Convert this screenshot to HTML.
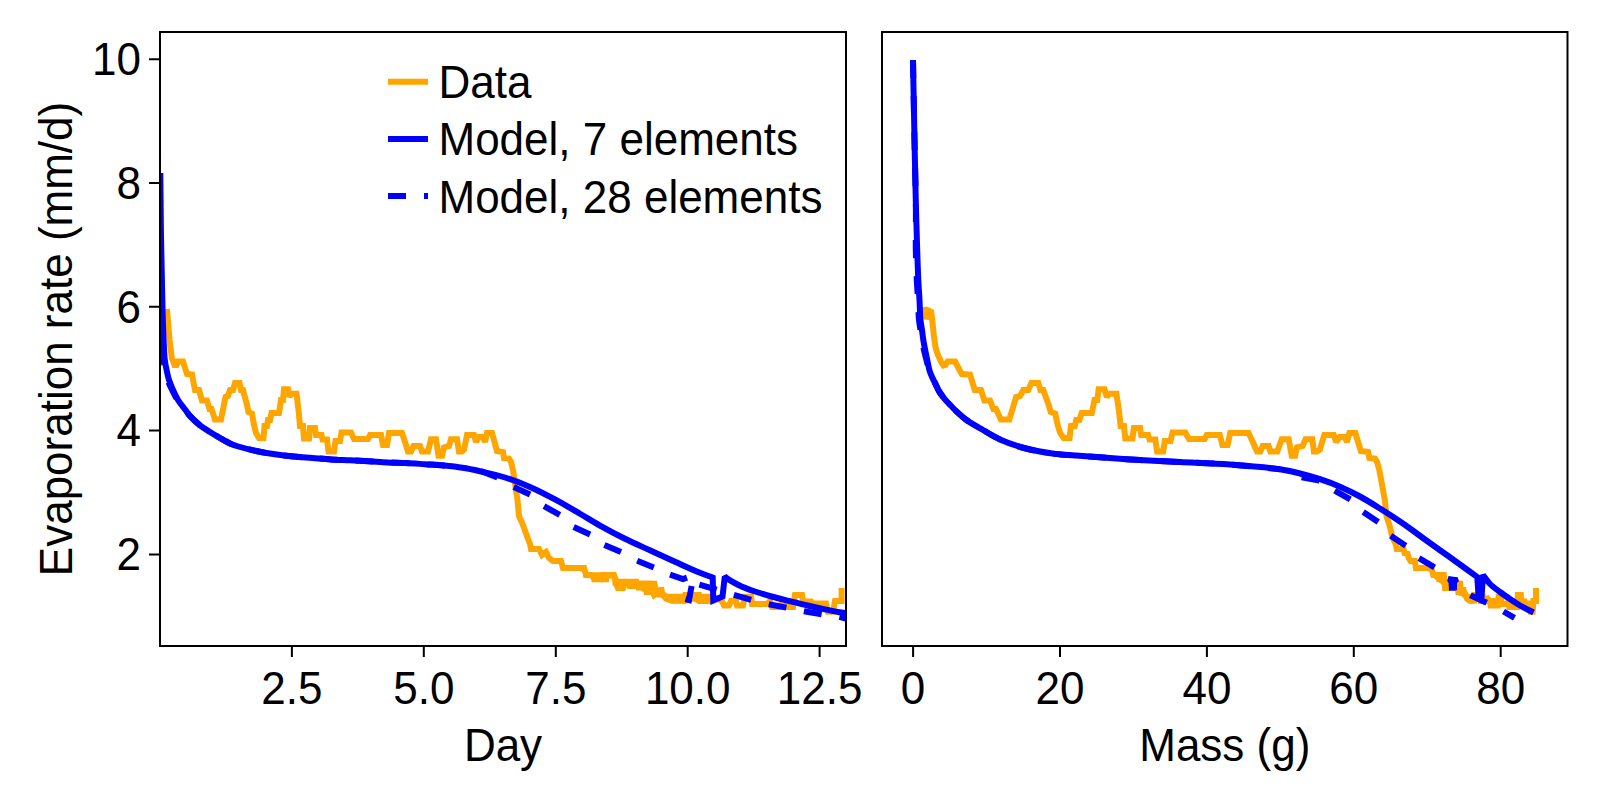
<!DOCTYPE html>
<html><head><meta charset="utf-8"><title>Evaporation rate</title>
<style>html,body{margin:0;padding:0;background:#fff;width:1600px;height:800px;overflow:hidden}svg{display:block}</style>
</head><body>
<svg width="1600" height="800" viewBox="0 0 1600 800">
<rect width="1600" height="800" fill="#fff"/>
<defs><clipPath id="cl"><rect x="160" y="32" width="686" height="614"/></clipPath><clipPath id="cr"><rect x="882" y="32" width="685.5" height="614"/></clipPath></defs>
<g clip-path="url(#cl)" fill="none" stroke-width="6" stroke-linejoin="miter" stroke-miterlimit="2">
<polygon points="580,566.1 585.7,566.1 588,572.25 601,572.25 602,574 605,574 605.4,572.25 614.5,572.25 619,578.8 638.6,578.8 639,580.6 651,580.6 657,581 658,587.1 664,587.1 665,592 667.5,593.7 682,593.7 683,592 700.7,592 701,593.7 712,593.7 712,603.75 698,603.75 694,601.6 685,603.75 672,603.75 666.6,601.6 666.6,597.6 654.4,597.6 654.4,595 646.5,595 646.5,590.6 636,590.6 636,588.9 629,588.9 629,585 623.7,585 623.7,590.6 616.7,590.6 612.4,584.5 612.4,578.5 609,578.5 609,582.3 591.4,582.3 591.4,578 583.5,578 583.5,571.4 580,571.4" fill="#FFA500" stroke="none"/>
<polyline points="166.9,309 169.6,340 171.8,358 174.5,365 176.5,365 178,361.5 183,361.5 187,374 192,374.5 195,390 199,390 202,400.5 207,400.5 209.5,409 211.5,409 215,419.5 221,419.5 225.5,397 228,396 230,390 233,390 235,383 239.5,383 241,390 243,390 247,405 248.5,412 252,413.5 254,425 256,433 259,438 263.5,438 264.5,426 267,426 268,420 270,420 271.5,413 279,413 281,400 283,400 284,389.3 288,389.3 289.5,397 291,393.8 296.5,393.8 298.5,410 300,425.9 303,425.9 304,438.4 309,438.4 310,428 315,428 316,435 321.5,435 322.5,439.4 327,439.4 328.5,451.4 334,451.4 335.5,441 340,441 341.5,432.6 351,432.6 354,439 368,439 370,435 381,435 383,445 387,445 389,433 402,433 405,442 408,451.4 411,451.4 413.5,446 420,446 422,451.4 428,451.4 431,439.3 436,439.3 438.5,455.75 442,455.75 444,447.4 449,446 451,439.3 457,439.3 459,451.4 462,451.4 464,449.5 467,435 474,435 476,442 479,437 483,437 485,442 487,433 492,433 497,451 503,452 504,458 509,458.6 511,462 513,470 514.5,480 516,490 517.5,500 519,516 523,525 527.5,537.5 530,544 531,549 539,549 542,555 546,552 549,558 553,561 561,561 563,568 584,568 586,575 591,575 593,577 601,579 603,575 614,575 616,582 618,588 623,588 625,582 628,582 629.5,586 635,586 637,583 643,588 645,584 646.5,592 652.5,592 654,595 659,591 663,595 666,598.6 672,600.5 685,600.5 686,595 699,595 700,601 711,601 713,597 722,601 724,605.5 729,605.5 731,601 736,601 737,605.5 743,605.5 745,596.7 751,596.7 752,604 767,604 770,601 772,607 779,607 782,603 786,603 787,607 793,607 795,595 802,595 803,601.5 811,601.5 812,603.5 818,603.5 819,606 821,603.5 826,603.5 828,611.7 833,611.7 835,601 838.5,601 841.6,601 841.6,588" stroke="#FFA500"/>
<path d="M160.30,173.00 C160.50,192.00 160.65,213.31 160.90,230.00 C161.10,243.08 161.33,252.30 161.60,265.00 C161.92,280.18 162.30,301.19 162.70,315.00 C162.98,324.76 163.22,332.13 163.60,340.00 C163.94,347.04 164.14,354.49 164.80,360.00 C165.27,363.92 165.90,366.68 166.60,370.00 C167.30,373.34 167.95,376.70 169.00,380.00 C170.07,383.37 171.52,386.70 173.00,390.00 C174.51,393.37 175.99,396.75 178.00,400.00 C180.12,403.43 183.32,407.07 185.50,410.00 C187.20,412.28 188.08,413.96 190.00,416.10 C192.57,418.97 196.56,422.59 200.00,425.30 C203.24,427.85 206.64,429.87 210.00,432.00 C213.31,434.10 216.65,436.07 220.00,438.00 C223.32,439.91 226.85,442.07 230.00,443.50 C232.63,444.70 234.41,445.29 237.50,446.25 C242.31,447.74 249.98,449.65 256.25,451.00 C262.48,452.33 268.74,453.37 275.00,454.30 C281.24,455.23 287.49,455.98 293.75,456.60 C299.99,457.22 306.25,457.53 312.50,458.00 C318.75,458.47 325.00,459.02 331.25,459.40 C337.50,459.78 343.75,459.99 350.00,460.30 C356.25,460.61 362.50,460.90 368.75,461.25 C375.00,461.60 381.27,462.11 387.50,462.40 C393.69,462.69 399.79,462.70 406.00,463.00 C412.29,463.31 418.69,463.82 425.00,464.25 C431.27,464.68 437.51,465.01 443.75,465.60 C450.01,466.19 456.38,466.84 462.50,467.80 C468.45,468.73 473.67,469.84 480.00,471.25 C487.61,472.95 496.74,474.92 505.00,477.50 C513.41,480.12 521.76,483.30 530.00,486.90 C538.43,490.58 546.73,494.96 555.00,499.40 C563.40,503.91 572.15,509.17 580.00,513.75 C587.05,517.86 592.91,521.64 600.00,525.60 C607.82,529.97 616.61,534.61 625.00,538.75 C633.28,542.84 641.66,546.47 650.00,550.30 C658.33,554.12 666.66,557.95 675.00,561.70 C683.32,565.45 693.03,569.96 700.00,572.80 C704.91,574.79 708.47,575.93 712.70,577.50 L713.3,600.5 L722.5,596.5 L724.8,576.5 C726.12,577.50 727.13,578.43 728.75,579.50 C731.06,581.02 734.55,583.00 737.50,584.50 C740.38,585.96 743.31,587.23 746.25,588.40 C749.14,589.56 751.57,590.38 755.00,591.50 C759.82,593.07 766.65,595.15 772.50,596.75 C778.31,598.34 784.17,599.64 790.00,601.10 C795.83,602.56 801.66,604.11 807.50,605.50 C813.32,606.88 818.82,608.12 825.00,609.40 C831.90,610.83 839.67,612.20 847.00,613.60" stroke="#0000FF"/>
<path d="M159.00,173.00 C159.20,192.00 159.35,213.31 159.60,230.00 C159.80,243.08 160.03,252.30 160.30,265.00 C160.62,280.18 161.00,301.19 161.40,315.00 C161.68,324.76 161.92,332.13 162.30,340.00 C162.64,347.04 162.84,354.49 163.50,360.00 C163.97,363.92 164.60,366.68 165.30,370.00 C166.00,373.34 166.59,376.72 167.70,380.00 C168.85,383.39 170.51,386.70 172.13,390.00 C173.79,393.37 175.42,396.76 177.57,400.00 C179.84,403.43 183.25,407.06 185.50,410.00 C187.23,412.27 188.08,413.96 190.00,416.10 C192.57,418.97 196.56,422.59 200.00,425.30 C203.24,427.85 206.64,429.87 210.00,432.00 C213.31,434.10 216.65,436.07 220.00,438.00 C223.32,439.91 226.85,442.07 230.00,443.50 C232.63,444.70 234.41,445.29 237.50,446.25 C242.31,447.74 249.98,449.65 256.25,451.00 C262.48,452.33 268.74,453.37 275.00,454.30 C281.24,455.23 287.49,455.98 293.75,456.60 C299.99,457.22 306.25,457.53 312.50,458.00 C318.75,458.47 325.00,459.02 331.25,459.40 C337.50,459.78 343.75,459.99 350.00,460.30 C356.25,460.61 362.50,460.90 368.75,461.25 C375.00,461.60 381.27,462.11 387.50,462.40 C393.69,462.69 399.79,462.70 406.00,463.00 C412.29,463.31 418.69,463.82 425.00,464.25 C431.27,464.68 437.51,465.01 443.75,465.60 C450.01,466.19 456.25,467.07 462.50,467.80" stroke="#0000FF" stroke-dasharray="18 18" stroke-dashoffset="6"/>
<polyline points="480.594,471.036 497.406,477.464" stroke="#0000FF"/>
<polyline points="513.684,486.97 530.066,494.43" stroke="#0000FF"/>
<polyline points="544.002,506.14 559.748,514.86" stroke="#0000FF"/>
<polyline points="573.684,526.97 590.066,534.43" stroke="#0000FF"/>
<polyline points="604.407,545.003 620.993,551.997" stroke="#0000FF"/>
<polyline points="637.161,560.665 653.839,567.435" stroke="#0000FF"/>
<polyline points="670,574.6 683,579 687,577.6" stroke="#0000FF"/>
<polyline points="691.6,586 689,600 685.5,599" stroke="#0000FF"/>
<polyline points="699.365,584.637 716.635,589.713" stroke="#0000FF"/>
<polyline points="733.839,594.954 751.161,599.846" stroke="#0000FF"/>
<polyline points="768.717,604.223 786.383,607.677" stroke="#0000FF"/>
<polyline points="803.884,611.18 821.616,614.27" stroke="#0000FF"/>
<polyline points="839.4,616.9 847,618.8" stroke="#0000FF"/>
</g>
<g clip-path="url(#cr)" fill="none" stroke-width="6" stroke-linejoin="miter" stroke-miterlimit="2">
<polygon points="1428.48,566.1 1433.01,566.1 1434.5,572.25 1439.55,572.25 1439.87,574 1440.86,574 1440.99,572.25 1443.99,572.25 1445.48,578.8 1454.64,578.8 1454.83,580.6 1460.39,580.6 1463.03,581 1463.47,587.1 1466.08,587.1 1466.5,592 1467.53,593.7 1473.35,593.7 1473.75,592 1481.23,592 1481.35,593.7 1485.74,593.7 1485.74,603.75 1480.11,603.75 1478.4,601.6 1474.55,603.75 1469.35,603.75 1467.16,601.6 1467.16,597.6 1461.89,597.6 1461.89,595 1458.39,595 1458.39,590.6 1453.4,590.6 1453.4,588.9 1450.06,588.9 1450.06,585 1447.46,585 1447.46,590.6 1444.68,590.6 1443.3,584.5 1443.3,578.5 1442.18,578.5 1442.18,582.3 1436.46,582.3 1436.46,578 1431.08,578 1431.08,571.4 1428.48,571.4" fill="#FFA500" stroke="none"/>
<polyline points="924.3,307 926.3,319 929.3,311 931.2,312 932.5,322 933.7,335 935.5,347 937.5,354 941,361.5 943.5,365.5 945.419,365 947.621,361.5 955,361.5 961.745,374 970,374.5 974.786,390 981,390 984.415,400.5 990,400.5 993.357,409 996,409 1000.89,419.5 1009.35,419.5 1016.17,397 1020.12,396 1023.32,390 1028.17,390 1031.44,383 1038.33,383 1040.46,390 1043.26,390 1048.71,405 1050.68,412 1055.19,413.5 1057.71,425 1060.13,433 1063.67,438 1069.56,438 1071.01,426 1074.75,426 1076.26,420 1079.32,420 1081.64,413 1091.84,413 1094.52,400 1097.26,400 1098.65,389.3 1104.54,389.3 1106.78,397 1109.01,393.8 1116.41,393.8 1118.87,410 1120.6,425.9 1123.95,425.9 1125.3,438.4 1132.54,438.4 1133.84,428 1140.04,428 1141.21,435 1148.19,435 1149.52,439.4 1155.27,439.4 1157.11,451.4 1163.18,451.4 1164.8,441 1170.45,441 1172.56,432.6 1185.26,432.6 1188.97,439 1204.69,439 1206.76,435 1219.83,435 1222.44,445 1227.57,445 1230.21,433 1248.51,433 1252.82,442 1256.97,451.4 1260.38,451.4 1262.71,446 1268.66,446 1270.41,451.4 1277.3,451.4 1281.72,439.3 1288.67,439.3 1291.73,455.75 1295.16,455.75 1296.84,447.4 1302.6,446 1305.54,439.3 1312.35,439.3 1313.88,451.4 1317.09,451.4 1319.9,449.5 1324.26,435 1333.77,435 1336.18,442 1339.77,437 1344.61,437 1347.01,442 1349.42,433 1355.35,433 1360.84,451 1368.05,452 1369.38,458 1375.03,458.6 1377.03,462 1379.32,470 1381.2,480 1383,490 1384.81,500 1386.5,516 1389.43,525 1392.5,537.5 1395.62,544 1396.81,549 1403.6,549 1405.14,555 1407.16,552 1408.67,558 1410.6,561 1414.78,561 1415.88,568 1431.45,568 1433.28,575 1436.33,575 1436.98,577 1439.55,579 1440.2,575 1443.83,575 1444.47,582 1445.07,588 1447.13,588 1448.09,582 1449.57,582 1450.3,586 1452.91,586 1453.88,583 1456.74,588 1457.69,584 1458.39,592 1461.06,592 1461.71,595 1463.91,591 1465.66,595 1466.92,598.6 1469.35,600.5 1474.55,600.5 1474.97,595 1480.54,595 1480.95,601 1485.33,601 1486.15,597 1489.82,601 1490.59,605.5 1492.46,605.5 1493.23,601 1495.22,601 1495.61,605.5 1497.86,605.5 1498.65,596.7 1501.17,596.7 1501.57,604 1507.31,604 1508.48,601 1509.24,607 1511.81,607 1512.94,603 1514.49,603 1514.87,607 1517.07,607 1517.86,595 1520.86,595 1521.27,601.5 1524.44,601.5 1524.83,603.5 1527.13,603.5 1527.51,606 1528.27,603.5 1530.19,603.5 1530.92,611.7 1532.63,611.7 1533.38,601 1534.77,601 1536,601 1536,588" stroke="#FFA500"/>
<path d="M913.00,60.00 C913.50,86.67 913.98,114.22 914.50,140.00 C914.98,164.11 915.48,189.91 916.00,210.00 C916.39,225.19 916.79,237.62 917.20,250.00 C917.56,260.72 917.87,271.01 918.30,280.00 C918.65,287.34 919.13,293.33 919.50,300.00 C919.87,306.67 919.95,314.49 920.50,320.00 C920.89,323.92 921.53,326.66 922.00,330.00 C922.47,333.33 922.77,336.67 923.30,340.00 C923.83,343.34 924.55,346.67 925.20,350.00 C925.85,353.33 926.47,356.58 927.20,360.00 C927.97,363.61 928.71,367.94 929.70,371.10 C930.47,373.56 931.35,375.39 932.30,377.50 C933.25,379.63 934.30,381.59 935.40,383.80 C936.62,386.26 937.79,389.11 939.30,391.60 C940.83,394.11 942.64,396.47 944.55,398.80 C946.52,401.21 948.74,403.48 950.95,405.80 C953.22,408.18 955.48,410.59 958.00,412.90 C960.65,415.33 963.09,417.56 966.50,420.00 C971.00,423.21 977.43,426.76 983.00,430.00 C988.60,433.26 993.65,436.64 1000.00,439.50 C1007.40,442.83 1016.19,445.89 1025.00,448.25 C1034.45,450.78 1045.98,452.69 1055.00,453.90 C1062.31,454.88 1067.96,454.97 1075.00,455.50 C1082.87,456.10 1090.69,456.65 1100.00,457.30 C1111.77,458.12 1126.66,459.22 1140.00,460.00 C1153.33,460.78 1165.92,461.30 1180.00,462.00 C1195.74,462.79 1213.35,463.30 1230.00,464.50 C1246.68,465.70 1267.13,467.22 1280.00,469.20 C1288.21,470.46 1293.36,471.84 1300.00,473.50 C1306.69,475.17 1313.38,477.02 1320.00,479.20 C1326.71,481.41 1333.40,483.85 1340.00,486.70 C1346.74,489.61 1353.41,492.92 1360.00,496.50 C1366.75,500.17 1373.37,504.36 1380.00,508.50 C1386.70,512.69 1394.50,517.79 1400.00,521.50 C1403.93,524.15 1406.35,525.88 1410.00,528.50 C1414.51,531.73 1419.35,535.42 1425.00,539.50 C1432.26,544.75 1442.14,551.67 1450.00,557.30 C1457.05,562.34 1464.98,568.07 1470.00,571.70 C1473.04,573.90 1474.87,575.23 1477.30,577.00 L1478.6,597 L1481.6,596 L1483,575 C1485.33,578.00 1487.27,581.23 1490.00,584.00 C1492.89,586.93 1496.63,589.47 1500.00,592.00 C1503.29,594.47 1506.65,596.74 1510.00,599.00 C1513.31,601.24 1516.36,603.38 1520.00,605.50 C1524.11,607.89 1529.00,610.17 1533.50,612.50" stroke="#0000FF"/>
<path d="M913.00,60.00 C913.50,86.67 914.00,114.22 914.50,140.00 C914.97,164.11 915.72,189.91 915.90,210.00 C916.03,225.19 915.61,237.63 915.80,250.00 C915.97,260.72 916.38,271.01 916.80,280.00 C917.14,287.34 917.63,293.33 918.00,300.00 C918.37,306.67 918.45,314.49 919.00,320.00 C919.39,323.92 920.03,326.66 920.50,330.00 C920.97,333.33 921.23,336.68 921.80,340.00 C922.37,343.34 923.15,346.67 923.92,350.00 C924.70,353.34 925.55,356.58 926.45,360.00 C927.41,363.61 928.41,367.94 929.52,371.10 C930.39,373.56 931.31,375.39 932.29,377.50 C933.27,379.62 934.30,381.59 935.40,383.80 C936.62,386.26 937.79,389.11 939.30,391.60 C940.83,394.11 942.64,396.47 944.55,398.80 C946.52,401.21 948.74,403.48 950.95,405.80 C953.22,408.18 955.48,410.59 958.00,412.90 C960.65,415.33 963.09,417.56 966.50,420.00 C971.00,423.21 977.43,426.76 983.00,430.00 C988.60,433.26 993.65,436.64 1000.00,439.50 C1007.40,442.83 1016.19,445.89 1025.00,448.25 C1034.45,450.78 1045.98,452.69 1055.00,453.90 C1062.31,454.88 1067.96,454.97 1075.00,455.50 C1082.87,456.10 1090.69,456.65 1100.00,457.30 C1111.77,458.12 1126.66,459.22 1140.00,460.00 C1153.33,460.78 1165.92,461.30 1180.00,462.00 C1195.74,462.79 1213.35,463.30 1230.00,464.50 C1246.68,465.70 1263.33,467.63 1280.00,469.20" stroke="#0000FF" stroke-dasharray="18 18"/>
<polyline points="1301.65,477.341 1319.35,480.659" stroke="#0000FF"/>
<polyline points="1334.69,490.535 1350.31,499.465" stroke="#0000FF"/>
<polyline points="1363.26,512.008 1378.24,521.992" stroke="#0000FF"/>
<polyline points="1390.72,535.818 1405.78,545.682" stroke="#0000FF"/>
<polyline points="1418.99,558.199 1434.51,567.301" stroke="#0000FF"/>
<polyline points="1470.34,595.194 1486.66,602.806" stroke="#0000FF"/>
<polyline points="1503.5,611.5 1514.5,617.8" stroke="#0000FF"/>
<polygon points="1447.2,581 1448.5,576 1452,576.5 1455,577 1457.5,577 1459,581 1457,583 1457,590 1455,590.7 1449,590.7 1448.6,583" fill="#0000FF" stroke="none"/>
</g>
<rect x="160" y="32" width="686" height="614" fill="none" stroke="#000" stroke-width="2"/>
<rect x="882" y="32" width="685.5" height="614" fill="none" stroke="#000" stroke-width="2"/>
<path d="M149,554.4H160 M149,430.6H160 M149,306.8H160 M149,183.0H160 M149,59.2H160 M291.9,646V657 M423.8,646V657 M555.8,646V657 M687.7,646V657 M819.6,646V657 M913.1,646V657 M1060.0,646V657 M1206.9,646V657 M1353.8,646V657 M1500.7,646V657" stroke="#000" stroke-width="2" fill="none"/>
<g font-family="Liberation Sans, Arial, sans-serif" font-size="44" fill="#000">
<text transform="translate(141.0,570.2) scale(1,1.03)" text-anchor="end">2</text>
<text transform="translate(141.0,446.4) scale(1,1.03)" text-anchor="end">4</text>
<text transform="translate(141.0,322.6) scale(1,1.03)" text-anchor="end">6</text>
<text transform="translate(141.0,198.8) scale(1,1.03)" text-anchor="end">8</text>
<text transform="translate(141.0,75.0) scale(1,1.03)" text-anchor="end">10</text>
<text transform="translate(291.9,704.4) scale(1,1.03)" text-anchor="middle">2.5</text>
<text transform="translate(423.8,704.4) scale(1,1.03)" text-anchor="middle">5.0</text>
<text transform="translate(555.8,704.4) scale(1,1.03)" text-anchor="middle">7.5</text>
<text transform="translate(687.7,704.4) scale(1,1.03)" text-anchor="middle">10.0</text>
<text transform="translate(819.6,704.4) scale(1,1.03)" text-anchor="middle">12.5</text>
<text transform="translate(913.1,704.4) scale(1,1.03)" text-anchor="middle">0</text>
<text transform="translate(1060.0,704.4) scale(1,1.03)" text-anchor="middle">20</text>
<text transform="translate(1206.9,704.4) scale(1,1.03)" text-anchor="middle">40</text>
<text transform="translate(1353.8,704.4) scale(1,1.03)" text-anchor="middle">60</text>
<text transform="translate(1500.7,704.4) scale(1,1.03)" text-anchor="middle">80</text>
<text transform="translate(503.0,760.8) scale(1,1.03)" text-anchor="middle">Day</text>
<text transform="translate(1224.8,760.8) scale(1,1.03)" text-anchor="middle">Mass (g)</text>
<text transform="translate(71.5,339.0) rotate(-90) scale(1,1.03)" text-anchor="middle">Evaporation rate (mm/d)</text>
<text transform="translate(438.5,97.7) scale(1,1.03)">Data</text>
<text transform="translate(438.5,155.3) scale(1,1.03)">Model, 7 elements</text>
<text transform="translate(438.5,212.6) scale(1,1.03)">Model, 28 elements</text>
</g>
<path d="M388,81.8H428" stroke="#FFA500" stroke-width="6"/>
<path d="M388,138.9H428" stroke="#0000FF" stroke-width="6"/>
<path d="M388,196H406M424,196H428" stroke="#0000FF" stroke-width="6"/>
</svg>
</body></html>
